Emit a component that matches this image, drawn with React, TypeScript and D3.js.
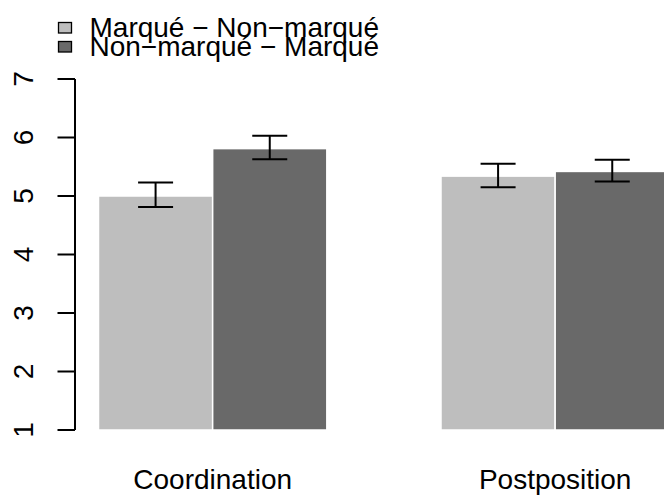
import React from "react";
import * as d3 from "d3";

const categories = ["Coordination", "Postposition"];
const seriesNames = ["Marqué − Non−marqué", "Non−marqué − Marqué"];
const seriesColors = ["#bebebe", "#696969"];
const meansMarked = [5.0, 5.34];
const meansUnmarked = [5.81, 5.42];
const lowerMarked = [4.81, 5.15];
const upperMarked = [5.23, 5.55];
const lowerUnmarked = [5.63, 5.25];
const upperUnmarked = [6.03, 5.62];
const yTicks = [1, 2, 3, 4, 5, 6, 7];

const W = 664;
const H = 495;
const FONT = "'Liberation Sans', Arial, Helvetica, sans-serif";

export default function App() {
  // bar units: group g occupies [1 + 3g, 3 + 3g]
  const x = d3.scaleLinear().domain([1, 4]).range([98.5, 441]);
  const y = d3.scaleLinear().domain([1, 7]).range([430, 79]);

  const bars: { x0: number; x1: number; v: number; lo: number; hi: number; c: string }[] = [];
  categories.forEach((_, g) => {
    const base = 1 + 3 * g;
    bars.push({ x0: base, x1: base + 1, v: meansMarked[g], lo: lowerMarked[g], hi: upperMarked[g], c: seriesColors[0] });
    bars.push({ x0: base + 1, x1: base + 2, v: meansUnmarked[g], lo: lowerUnmarked[g], hi: upperUnmarked[g], c: seriesColors[1] });
  });

  const capHalf = 17.5;

  return (
    <svg width={W} height={H} style={{ position: "absolute", left: 0, top: 0, display: "block" }}>
      <rect x={0} y={0} width={W} height={H} fill="#fff" />
      {bars.map((b, i) => (
        <rect
          key={"bar" + i}
          x={x(b.x0)}
          y={y(b.v)}
          width={x(b.x1) - x(b.x0)}
          height={y(1) - y(b.v)}
          fill={b.c}
          stroke="#fff"
          strokeWidth={1.5}
        />
      ))}
      {bars.map((b, i) => {
        const cx = (x(b.x0) + x(b.x1)) / 2;
        return (
          <g key={"err" + i} stroke="#000" strokeWidth={2} fill="none">
            <line x1={cx} x2={cx} y1={y(b.lo)} y2={y(b.hi)} />
            <line x1={cx - capHalf} x2={cx + capHalf} y1={y(b.lo)} y2={y(b.lo)} />
            <line x1={cx - capHalf} x2={cx + capHalf} y1={y(b.hi)} y2={y(b.hi)} />
          </g>
        );
      })}
      {/* y axis */}
      <g stroke="#000" strokeWidth={2} fill="none">
        <line x1={75} x2={75} y1={y(1)} y2={y(7)} />
        {yTicks.map((t) => (
          <line key={"t" + t} x1={57.5} x2={75} y1={y(t)} y2={y(t)} />
        ))}
      </g>
      {yTicks.map((t) => (
        <text
          key={"l" + t}
          transform={`translate(32.5,${y(t)}) rotate(-90)`}
          textAnchor="middle"
          fontFamily={FONT}
          fontSize={28}
          fill="#000"
        >
          {t}
        </text>
      ))}
      {/* category labels */}
      {categories.map((c, g) => (
        <text
          key={c}
          x={x(2 + 3 * g)}
          y={488.5}
          textAnchor="middle"
          fontFamily={FONT}
          fontSize={28}
          fill="#000"
        >
          {c}
        </text>
      ))}
      {/* legend */}
      {seriesNames.map((s, i) => (
        <g key={s}>
          <rect x={58.5} y={22.5 + i * 19} width={13} height={10.5} fill={seriesColors[i]} stroke="#000" strokeWidth={1.3} />
          <text x={89.5} y={36.5 + i * 19} fontFamily={FONT} fontSize={28} fill="#000">
            {s}
          </text>
        </g>
      ))}
    </svg>
  );
}
